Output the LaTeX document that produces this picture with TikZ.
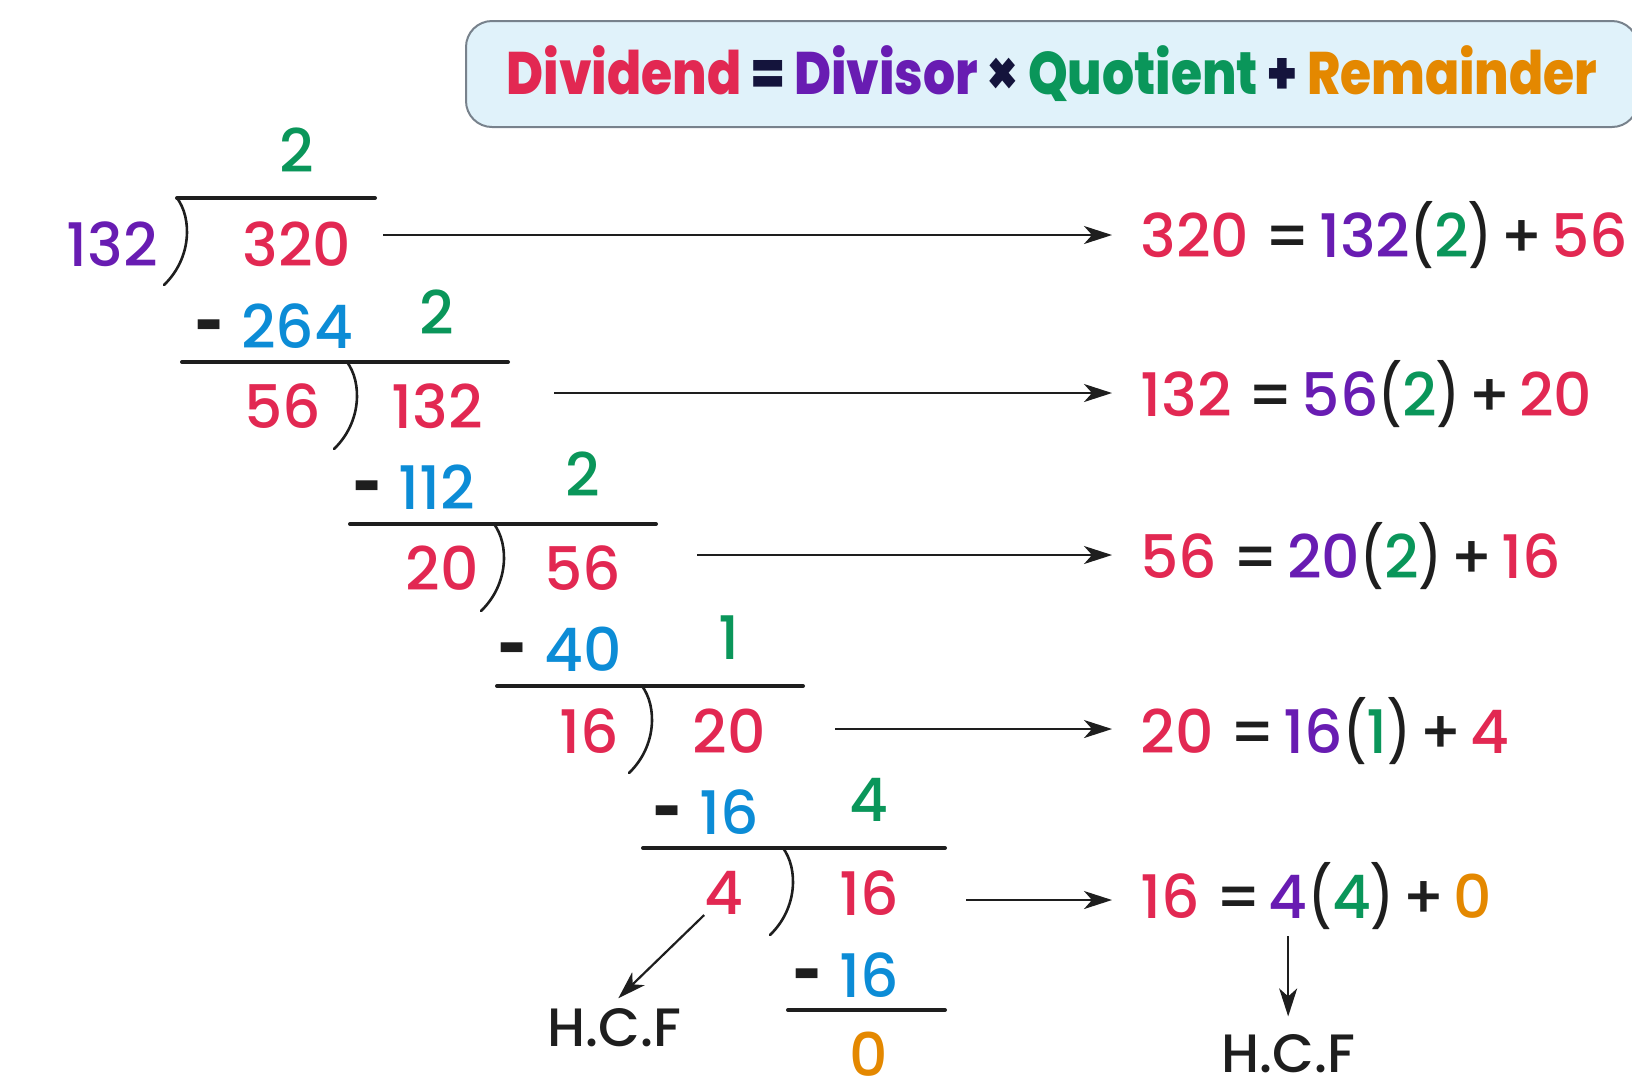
\documentclass[tikz,border=0pt]{standalone}
\usepackage{fontspec}
\usepackage{graphicx}
\setmainfont{Poppins}[UprightFont={* Medium}]
\usetikzlibrary{arrows.meta,positioning}

\definecolor{divred}{RGB}{226,40,82}
\definecolor{divpurple}{RGB}{104,28,178}
\definecolor{quogreen}{RGB}{10,150,90}
\definecolor{subblue}{RGB}{12,140,214}
\definecolor{remorange}{RGB}{228,136,0}
\definecolor{inkgray}{RGB}{30,30,30}
\definecolor{bannerink}{RGB}{20,20,60}
\definecolor{bannerfill}{RGB}{224,242,250}
\definecolor{bannerline}{RGB}{120,130,140}

\newcommand{\openpar}{\scalebox{.8}[1]{(}}
\newcommand{\closepar}{\scalebox{.8}[1]{)}}
\newcommand{\eqgap}{\hspace{4pt}}

\begin{document}
\begin{tikzpicture}[
    x=.5pt,y=-.5pt,
    num/.style={inner sep=0pt,font=\fontsize{30}{36}\selectfont},
    dividend/.style={num,text=divred},
    quotient/.style={num,text=quogreen},
    subtrahend/.style={num,text=subblue},
    minus/.style={num,text=inkgray,font=\fontsize{30}{36}\selectfont\bfseries,yshift=1.5pt},
    bar/.style={line width=2pt,draw=inkgray,line cap=round},
    hook/.style={line width=1.3pt,draw=inkgray,line cap=round},
    link/.style={line width=1.1pt,draw=inkgray,-{Stealth[length=14pt,width=9pt,inset=4pt]}},
    equation/.style={anchor=base west,inner sep=0pt,text=inkgray,font=\fontsize{30}{36}\selectfont},
    hcf/.style={inner sep=3pt,text=inkgray,font=\fontsize{27}{32}\selectfont}
]
    \useasboundingbox (0,0) rectangle (1632,1084);
    \clip (0,0) rectangle (1632,1084);

    % Banner runs off the right edge of the page.
    \node[draw=bannerline,fill=bannerfill,line width=1pt,rounded corners=13pt,
        minimum width=586pt,minimum height=53pt,inner sep=0pt,text=bannerink] (banner) at (1052,74)
        {\scalebox{.84}[1]{\fontsize{30}{36}\selectfont\bfseries
        \textcolor{divred}{Dividend} = \textcolor{divpurple}{Divisor} × \textcolor{quogreen}{Quotient}
        + \textcolor{remorange}{Remainder}}};

    % Divisor and dividend of each step.
    \node[num,text=divpurple] (d1) at (112,244) {132};
    \node[dividend] (n1) at (297,244) {320};
    \node[dividend] (d2) at (283,406) {56};
    \node[dividend] (n2) at (437,406) {132};
    \node[dividend] (d3) at (442,568) {20};
    \node[dividend] (n3) at (583,568) {56};
    \node[dividend] (d4) at (589,731) {16};
    \node[dividend] (n4) at (729,731) {20};
    \node[dividend] (d5) at (724,893) {4};
    \node[dividend] (n5) at (869,893) {16};

    % Quotient above, product below.
    \foreach \i/\q/\s in {1/2/264,2/2/112,3/2/40,4/1/16,5/4/16} {
        \node[quotient,above=24pt of n\i] (q\i) {\q};
        \node[subtrahend,below=18pt of n\i] (s\i) {\s};
        \node[minus,base left=8pt of s\i] (m\i) {\scalebox{.8}[1]{-}};
    }
    \node[num,text=remorange,below=17pt of s5] (r) {0};

    \foreach \xa/\xb/\yy in {177/375/198,182/508/362,350/656/524,497/803/686,643/945/848,788/945/1010}
        \draw[bar] (\xa,\yy) -- (\xb,\yy);

    \foreach \bx/\by in {177/198,347/362,494/524,642/686,783/848}
        \draw[hook] (\bx,\by) .. controls (\bx+15,\by+20) and (\bx+15,\by+60) .. (\bx-13,\by+87);

    % Each step written out as an equation.
    \node[equation] (e1) at (1140,257) {\textcolor{divred}{320} =\eqgap\textcolor{divpurple}{132}\openpar\textcolor{quogreen}{2}\closepar\eqgap+\eqgap\textcolor{divred}{56}};
    \node[equation] (e2) at (1140,416) {\textcolor{divred}{132} =\eqgap\textcolor{divpurple}{56}\openpar\textcolor{quogreen}{2}\closepar\eqgap+\eqgap\textcolor{divred}{20}};
    \node[equation] (e3) at (1140,578) {\textcolor{divred}{56} =\eqgap\textcolor{divpurple}{20}\openpar\textcolor{quogreen}{2}\closepar\eqgap+\eqgap\textcolor{divred}{16}};
    \node[equation] (e4) at (1140,753) {\textcolor{divred}{20} =\eqgap\textcolor{divpurple}{16}\openpar\textcolor{quogreen}{1}\closepar\eqgap+\eqgap\textcolor{divred}{4}};
    \node[equation] (e5) at (1140,918) {\textcolor{divred}{16} =};
    \node[equation,base right=3pt of e5,text=divpurple] (e5v) {4};
    \node[equation,base right=0pt of e5v] (e5r) {\openpar\textcolor{quogreen}{4}\closepar\eqgap+\eqgap\textcolor{remorange}{0}};

    \foreach \i/\ax/\ay in {1/383/235,2/554/393,3/697/555,4/835/729,5/966/900} {
        \coordinate (a\i) at (\ax,\ay);
        \draw[link,shorten >=14pt] (a\i) -- (a\i -| e\i.west);
    }

    \node[hcf] (hcfL) at (614,1028) {H.C.F};
    \node[hcf,below=55pt of e5v] (hcfR) {H.C.F};
    \draw[link,shorten >=3pt] (d5.south west) -- (hcfL.north);
    \draw[link,shorten <=9pt,shorten >=6pt] (e5v.south) -- (hcfR.north);
\end{tikzpicture}
\end{document}
